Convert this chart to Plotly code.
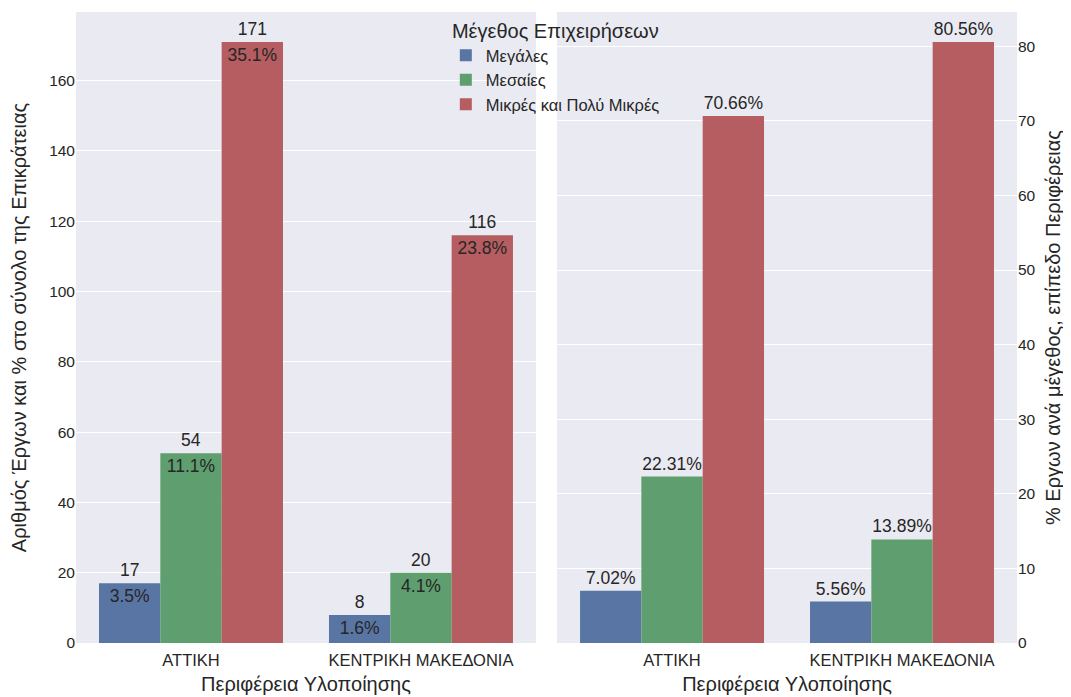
import plotly.graph_objects as go

regions = ["ΑΤΤΙΚΗ", "ΚΕΝΤΡΙΚΗ ΜΑΚΕΔΟΝΙΑ"]
sizes = ["Μεγάλες", "Μεσαίες", "Μικρές και Πολύ Μικρές"]
colors = ["#5975a4", "#5f9e6e", "#b55d60"]

# counts per size class, per region
counts = {
    "Μεγάλες": [17, 8],
    "Μεσαίες": [54, 20],
    "Μικρές και Πολύ Μικρές": [171, 116],
}
# % of national total
pct_national = {
    "Μεγάλες": [3.5, 1.6],
    "Μεσαίες": [11.1, 4.1],
    "Μικρές και Πολύ Μικρές": [35.1, 23.8],
}
# % within region
pct_region = {
    "Μεγάλες": [7.02, 5.56],
    "Μεσαίες": [22.31, 13.89],
    "Μικρές και Πολύ Μικρές": [70.66, 80.56],
}

left_ticks = [0, 20, 40, 60, 80, 100, 120, 140, 160]
right_ticks = [0, 10, 20, 30, 40, 50, 60, 70, 80]

TXT = "#262626"
FONT = "Liberation Sans, Arial, sans-serif"
BAR_FS = 17.5
TICK_X = 16.5
TICK_Y = 15.5
TITLE_FS = 20

fig = go.Figure()

for s, c in zip(sizes, colors):
    fig.add_trace(go.Bar(
        x=regions, y=counts[s], name=s, marker=dict(color=c, line=dict(width=0)),
        text=[str(v) for v in counts[s]], textposition="outside",
        textfont=dict(size=BAR_FS, color=TXT), cliponaxis=False,
        xaxis="x", yaxis="y", legendgroup=s,
    ))
for s, c in zip(sizes, colors):
    fig.add_trace(go.Bar(
        x=regions, y=counts[s], name=s, showlegend=False,
        marker=dict(color="rgba(0,0,0,0)", line=dict(width=0)),
        text=[f"{v:.1f}%" for v in pct_national[s]], textposition="inside",
        insidetextanchor="end", textangle=0, constraintext="none",
        textfont=dict(size=BAR_FS, color=TXT),
        xaxis="x3", yaxis="y3", legendgroup=s,
    ))
for s, c in zip(sizes, colors):
    fig.add_trace(go.Bar(
        x=regions, y=pct_region[s], name=s, showlegend=False,
        marker=dict(color=c, line=dict(width=0)),
        text=[f"{v:.2f}%" for v in pct_region[s]], textposition="outside",
        textfont=dict(size=BAR_FS, color=TXT), cliponaxis=False,
        xaxis="x2", yaxis="y2", legendgroup=s,
    ))

d1 = [0, 0.4888]
d2 = [0.5112, 1]
ax_common = dict(showgrid=False, showline=False, zeroline=False, ticks="",
                 tickfont=dict(size=TICK_X, color=TXT), range=[-0.5, 1.5],
                 categoryorder="array", categoryarray=regions, automargin=False,
                 ticklabelstandoff=5)
yax_common = dict(showgrid=True, gridcolor="white", gridwidth=1.3, zeroline=False,
                  showline=False, ticks="", tickfont=dict(size=TICK_Y, color=TXT),
                  automargin=False)
fig.update_layout(
    width=1063, height=689,
    margin=dict(l=68, r=54, t=4, b=54),
    paper_bgcolor="white", plot_bgcolor="#eaeaf2",
    font=dict(family=FONT, color=TXT),
    barmode="group", bargap=0.2, bargroupgap=0,
    showlegend=True,
    legend=dict(
        x=0.393, y=1.0, xanchor="left", yanchor="top",
        bgcolor="rgba(0,0,0,0)", font=dict(size=16.5, color=TXT),
        title=dict(text="Μέγεθος Επιχειρήσεων", side="top center",
                   font=dict(size=20, color=TXT)),
        tracegroupgap=0, itemwidth=30,
    ),
    xaxis=dict(domain=d1, anchor="y",
               title=dict(text="Περιφέρεια Υλοποίησης", font=dict(size=TITLE_FS, color=TXT), standoff=9),
               **ax_common),
    xaxis2=dict(domain=d2, anchor="y2",
                title=dict(text="Περιφέρεια Υλοποίησης", font=dict(size=TITLE_FS, color=TXT), standoff=9),
                **ax_common),
    xaxis3=dict(domain=d1, anchor="y3", overlaying="x", visible=False,
                range=[-0.5, 1.5], categoryorder="array", categoryarray=regions),
    yaxis=dict(domain=[0, 1], anchor="x", range=[0, 179.55], tickvals=left_ticks,
               title=dict(text="Αριθμός Έργων και % στο σύνολο της Επικράτειας",
                          font=dict(size=TITLE_FS, color=TXT), standoff=17),
               **yax_common),
    yaxis3=dict(domain=[0, 1], anchor="x3", overlaying="y", range=[0, 179.55],
                visible=False),
    yaxis2=dict(domain=[0, 1], anchor="x2", side="right", range=[0, 84.59],
                tickvals=right_ticks,
                title=dict(text="% Εργων ανά μέγεθος, επίπεδο Περιφέρειας",
                           font=dict(size=TITLE_FS, color=TXT), standoff=11),
                **yax_common),
)

fig.write_html("out.html")
